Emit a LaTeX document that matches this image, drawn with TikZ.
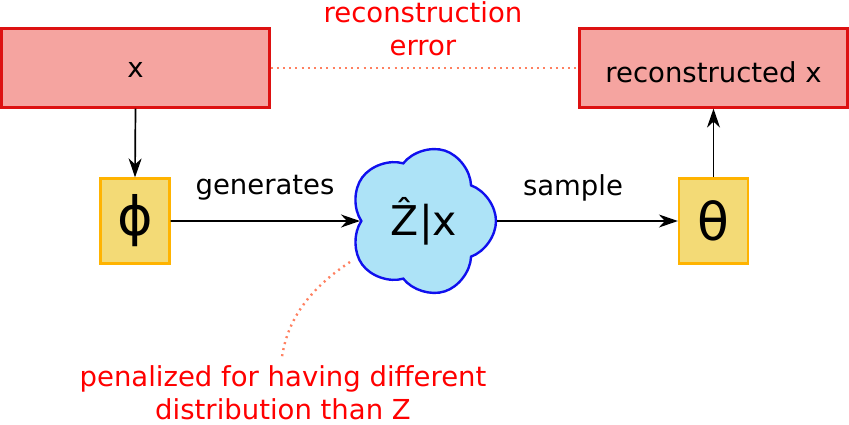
\documentclass[tikz,border=0pt]{standalone}
\usepackage{fontspec}
\setmainfont{DejaVu Sans}
\usetikzlibrary{shapes.symbols,arrows.meta}
\definecolor{boxred}{HTML}{F5A4A0}
\definecolor{borderred}{HTML}{DD1111}
\definecolor{boxyellow}{HTML}{F3DA76}
\definecolor{borderyellow}{HTML}{FFB300}
\definecolor{cloudblue}{HTML}{ADE3F7}
\definecolor{cloudborder}{HTML}{1010EE}
\definecolor{coral}{HTML}{FF8060}
\tikzset{
  redbox/.style={draw=borderred, fill=boxred, line width=2.2pt, inner sep=0pt,
    minimum width=268pt, minimum height=79pt, font=\fontsize{27.5}{33}\selectfont},
  greekbox/.style={draw=borderyellow, fill=boxyellow, line width=2.2pt, inner sep=0pt,
    minimum width=69pt, minimum height=85pt, font=\fontsize{54}{60}\selectfont},
  cloudnode/.style={cloud, cloud puffs=5, cloud puff arc=140, aspect=1, rotate=-18,
    draw=cloudborder, fill=cloudblue, line width=2.4pt, inner sep=0pt,
    minimum width=148pt, minimum height=148pt},
  arr/.style={-{Stealth[length=19pt,width=13pt,inset=6pt]}, line width=1.7pt},
  coraldot/.style={draw=coral, line width=2.4pt, dash pattern=on 2pt off 4.2pt},
  lbl/.style={font=\fontsize{27.5}{33}\selectfont},
  redlbl/.style={font=\fontsize{27.5}{33}\selectfont, text=red, align=center, inner sep=0pt}
}
\begin{document}
\begin{tikzpicture}[x=1pt,y=-1pt]
\useasboundingbox (0,0) rectangle (849,424);
\node[redbox] (x) at (135.5,68) {};
\node[lbl] (xt) at (135.5,70) {x};
\node[redbox] (rx) at (713.5,68) {};
\node[lbl] (rxt) at (713.5,72) {reconstructed x};
\node[greekbox] (phi) at (135,221) {ϕ};
\node[greekbox, font=\fontsize{52}{60}\selectfont] (theta) at (713.5,221) {θ};
\node[cloudnode] (z) at (422,221) {};
\node[font=\fontsize{41}{46}\selectfont] (zt) at (424,221) {Ẑ|x};
\node[redlbl] (err) at (423,29) {reconstruction\\error};
\node[redlbl] (pen) at (283,393) {penalized for having different\\distribution than Z};
\node[lbl] (gen) at (265,188) {generates};
\node[lbl] (smp) at (573,188) {sample};
\draw[arr] (x.south) -- (phi.north);
\draw[arr] (phi.east) -- (z.198);
\draw[arr] (z.18) -- (theta.west);
\draw[arr] (theta.north) -- (rx.south);
\draw[coraldot] (x.east) -- (rx.west);
\coordinate (c1) at (350,262);
\coordinate (c2) at (282,357);
\draw[coraldot] (c1) .. controls (315,285) and (288,315) .. (c2);
\end{tikzpicture}
\end{document}
